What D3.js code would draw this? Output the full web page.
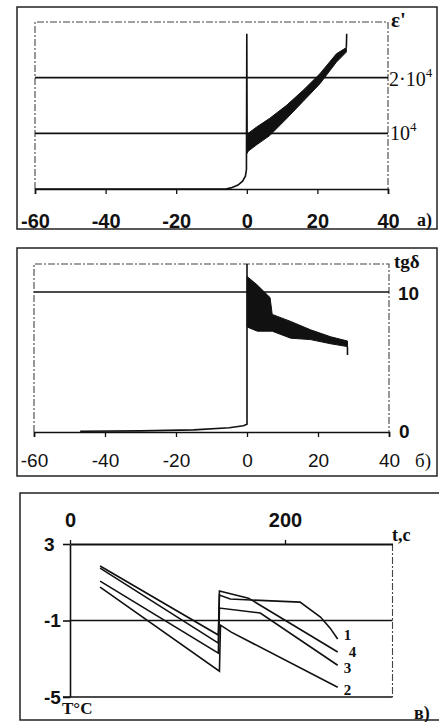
<!DOCTYPE html>
<html>
<head>
<meta charset="utf-8">
<script src="https://cdn.jsdelivr.net/npm/d3@7"></script>
<style>
body { margin: 0; background: #fff; }
svg text { fill: #111; }
.tk { font-family: "Liberation Sans", Arial, sans-serif; font-weight: bold; font-size: 19px; }
.sf { font-family: "Liberation Serif", "Times New Roman", serif; font-weight: bold; }
.frame { fill: none; stroke: #222; stroke-width: 1.5; }
.dash { fill: none; stroke: #444; stroke-width: 1.1; stroke-dasharray: 7,2,2,2; }
.solid { fill: none; stroke: #111; stroke-width: 1.6; }
</style>
</head>
<body>
<svg id="chart" width="439" height="722"></svg>
<script>
// ---- panel a) : eps' (thousands) vs T
var epsT = [-60, -6, -4.5, -2.5, -1.2, -0.4, -0.1, 0, 0.1];
var epsV = [0, 0, 0.2, 0.7, 1.4, 2.3, 3.5, 27.9, 7];
var epsBandT  = [0.1, 0.4, 2.7, 6.5, 11.2, 15.9, 20.7, 25.4, 28.2];
var epsBandHi = [8.5, 10.0, 11.1, 12.7, 15.0, 17.7, 20.7, 24.3, 25.4];
var epsBandLo = [6.4, 6.8, 7.9, 9.6, 12.6, 15.7, 18.9, 22.8, 24.6];
var epsEndT = [28.2, 28.3];
var epsEndV = [25.4, 27.9];
var epsXTicks = [-60, -40, -20, 0, 20, 40];

// ---- panel b) : tg delta vs T
var tgT = [-47, -30, -15, -5, -1, 0, 0];
var tgV = [0.05, 0.08, 0.15, 0.3, 0.45, 0.55, 12];
var tgBandT  = [0.05, 2.9, 5.7, 6.5, 7.1, 12.3, 17.9, 23.6, 28.3];
var tgBandHi = [11.1, 10.5, 9.8, 9.6, 8.4, 7.9, 7.3, 6.8, 6.5];
var tgBandLo = [7.5, 7.2, 7.2, 7.2, 7.2, 6.7, 6.6, 6.3, 6.1];
var tgEndT = [28.3, 28.3];
var tgEndV = [6.1, 5.5];

// ---- panel в) : T vs t
var curveNames = ["1", "4", "3", "2"];
var c1t = [28, 138, 139, 149, 214, 233, 242, 249];
var c1v = [1.74, -2.18, 0.33, 0.12, -0.04, -0.82, -1.40, -1.97];
var c4t = [28, 138, 139, 166, 249];
var c4v = [1.85, -1.76, 0.54, 0.17, -2.65];
var c3t = [28, 138, 139, 177, 249];
var c3v = [1.06, -2.71, -0.35, -0.61, -3.34];
var c2t = [28, 139, 140, 150, 249];
var c2v = [0.75, -3.65, -1.24, -1.61, -4.49];
var timeTicks = [0, 200];
var tempTicks = [3, -1, -5];

var svg = d3.select("#chart");

function pts(xs, ys) {
    return xs.map(function(d, i) { return [d, ys[i]]; });
}
function band(xs, lo, hi) {
    return xs.map(function(d, i) { return {x: d, lo: lo[i], hi: hi[i]}; });
}

// ================= panel a
svg.append("rect").attr("class", "frame").attr("x", 17).attr("y", 7).attr("width", 420).attr("height", 222);

var xA = d3.scaleLinear().domain([-60, 40]).range([35, 388]);
var yA = d3.scaleLinear().domain([0, 30]).range([189, 22]);

var gA = svg.append("g");
gA.append("path").attr("class", "dash")
    .attr("d", "M" + xA(-60) + "," + yA(0) + "V" + yA(30) + "H" + xA(40) + "V" + yA(0));
gA.selectAll(".gridA").data([10, 20]).enter().append("line")
    .attr("class", "solid")
    .attr("x1", xA(-60)).attr("x2", xA(40))
    .attr("y1", function(d) { return yA(d); }).attr("y2", function(d) { return yA(d); });

var axA = gA.append("g").attr("transform", "translate(0," + yA(0) + ")")
    .call(d3.axisBottom(xA).tickValues(epsXTicks).tickSize(5).tickPadding(20).tickFormat(function(d) { return String(d); }));
axA.select(".domain").attr("stroke", "#111").attr("stroke-width", 1.6);
axA.selectAll(".tick line").attr("stroke", "#111").attr("stroke-width", 1.3);
axA.selectAll("text").attr("fill", "#111").style("font-size", "20px").style("font-weight", "bold")
    .style("font-family", "'Liberation Sans', Arial, sans-serif");

var lineA = d3.line().x(function(d) { return xA(d[0]); }).y(function(d) { return yA(d[1]); });
gA.append("path").attr("class", "solid").attr("d", lineA(pts(epsT, epsV)));
gA.append("path").attr("fill", "#111").attr("stroke", "#111").attr("stroke-width", 1)
    .attr("d", d3.area().x(function(d) { return xA(d.x); }).y0(function(d) { return yA(d.lo); }).y1(function(d) { return yA(d.hi); })
        (band(epsBandT, epsBandLo, epsBandHi)));
gA.append("path").attr("class", "solid").attr("d", lineA(pts(epsEndT, epsEndV)));

svg.append("text").attr("class", "sf").attr("x", 391).attr("y", 27).style("font-size", "21px").text("ε'");
var t2 = svg.append("text").attr("class", "sf").attr("x", 389).attr("y", yA(20) + 8).style("font-size", "20px").style("font-weight", "normal");
t2.append("tspan").text("2·10");
t2.append("tspan").attr("dy", -9).style("font-size", "13px").text("4");
var t1 = svg.append("text").attr("class", "sf").attr("x", 390).attr("y", yA(10) + 7).style("font-size", "20px").style("font-weight", "normal");
t1.append("tspan").text("10");
t1.append("tspan").attr("dy", -9).style("font-size", "13px").text("4");
svg.append("text").attr("class", "sf").attr("x", 417).attr("y", 226).style("font-size", "18px").text("a)");

// ================= panel б
svg.append("rect").attr("class", "frame").attr("x", 17).attr("y", 248).attr("width", 420).attr("height", 228);

var xB = d3.scaleLinear().domain([-60, 40]).range([34, 389]);
var yB = d3.scaleLinear().domain([0, 12]).range([432, 264]);

var gB = svg.append("g");
gB.append("path").attr("class", "dash")
    .attr("d", "M" + xB(-60) + "," + yB(0) + "V" + yB(12) + "H" + xB(40) + "V" + yB(0));
gB.append("line").attr("class", "solid")
    .attr("x1", xB(-60)).attr("x2", xB(40)).attr("y1", yB(10)).attr("y2", yB(10));

var axB = gB.append("g").attr("transform", "translate(0," + yB(0) + ")")
    .call(d3.axisBottom(xB).tickValues(epsXTicks).tickSize(5).tickPadding(17).tickFormat(function(d) { return String(d); }));
axB.select(".domain").attr("stroke", "#111").attr("stroke-width", 1.6);
axB.selectAll(".tick line").attr("stroke", "#111").attr("stroke-width", 1.3);
axB.selectAll("text").attr("fill", "#111").style("font-size", "19px")
    .style("font-family", "'Liberation Sans', Arial, sans-serif");

var lineB = d3.line().x(function(d) { return xB(d[0]); }).y(function(d) { return yB(d[1]); });
gB.append("path").attr("class", "solid").attr("d", lineB(pts(tgT, tgV)));
gB.append("path").attr("fill", "#111").attr("stroke", "#111").attr("stroke-width", 1)
    .attr("d", d3.area().x(function(d) { return xB(d.x); }).y0(function(d) { return yB(d.lo); }).y1(function(d) { return yB(d.hi); })
        (band(tgBandT, tgBandLo, tgBandHi)));
gB.append("path").attr("class", "solid").attr("d", lineB(pts(tgEndT, tgEndV)));

svg.append("text").attr("class", "sf").attr("x", 394).attr("y", 268).style("font-size", "19px").text("tgδ");
svg.append("text").attr("class", "tk").attr("x", 398).attr("y", yB(10) + 8).text("10");
svg.append("text").attr("class", "tk").attr("x", 399).attr("y", yB(0) + 6).text("0");
svg.append("text").attr("class", "sf").attr("x", 415).attr("y", 467).style("font-size", "19px").style("font-weight", "normal").text("б)");

// ================= panel в
svg.append("path").attr("class", "frame").attr("d", "M439,493H20V720H439");

var xC = d3.scaleLinear().domain([0, 300]).range([70, 392.5]);
var yC = d3.scaleLinear().domain([-5, 3]).range([697, 544]);

var gC = svg.append("g");
gC.append("line").attr("class", "dash").attr("x1", xC(300)).attr("x2", xC(300)).attr("y1", yC(3)).attr("y2", yC(-5));
gC.append("line").attr("class", "solid").attr("stroke-width", 1.3)
    .attr("x1", xC(0)).attr("x2", xC(300)).attr("y1", yC(-1)).attr("y2", yC(-1));
gC.append("line").attr("class", "solid")
    .attr("x1", xC(0) - 7).attr("x2", xC(300)).attr("y1", yC(-5)).attr("y2", yC(-5));

var axCt = gC.append("g").attr("transform", "translate(0," + yC(3) + ")")
    .call(d3.axisTop(xC).tickValues(timeTicks).tickSize(4).tickPadding(13).tickSizeOuter(0));
axCt.select(".domain").attr("stroke", "#111").attr("stroke-width", 2);
axCt.selectAll(".tick line").attr("stroke", "#111").attr("stroke-width", 1.3);
axCt.selectAll("text").attr("class", "tk").attr("fill", "#111").style("font-size", "20px");

var axCl = gC.append("g").attr("transform", "translate(" + xC(0) + ",0)")
    .call(d3.axisLeft(yC).tickValues(tempTicks).tickSize(7).tickSizeOuter(0).tickFormat(function(d) { return String(d); }));
axCl.select(".domain").attr("stroke", "#111").attr("stroke-width", 1.6);
axCl.selectAll(".tick line").attr("stroke", "#111").attr("stroke-width", 1.6);
axCl.selectAll("text").attr("class", "tk").attr("fill", "#111").attr("text-anchor", "start").attr("x", -26);

var lineC = d3.line().x(function(d) { return xC(d[0]); }).y(function(d) { return yC(d[1]); });
var curves = [pts(c1t, c1v), pts(c4t, c4v), pts(c3t, c3v), pts(c2t, c2v)];
gC.selectAll(".curve").data(curves).enter().append("path")
    .attr("class", "solid").attr("stroke-width", 1.5)
    .attr("d", function(d) { return lineC(d); });
// label offsets below curve ends, so the close labels do not touch
var labDx = [6, 11, 6, 6];
var labDy = [1, 5, 8, 8];
gC.selectAll(".clab").data(curves).enter().append("text")
    .attr("class", "sf").style("font-size", "15px")
    .attr("x", function(d, i) { var e = d[d.length - 1]; return xC(e[0]) + labDx[i]; })
    .attr("y", function(d, i) { var e = d[d.length - 1]; return yC(e[1]) + labDy[i]; })
    .text(function(d, i) { return curveNames[i]; });

svg.append("text").attr("class", "sf").attr("x", 392).attr("y", 541).style("font-size", "18px").text("t,c");
svg.append("text").attr("class", "sf").attr("x", 62).attr("y", 714).style("font-size", "17px").text("T°C");
svg.append("text").attr("class", "sf").attr("x", 414).attr("y", 719).style("font-size", "18px").text("в)");
</script>
</body>
</html>
